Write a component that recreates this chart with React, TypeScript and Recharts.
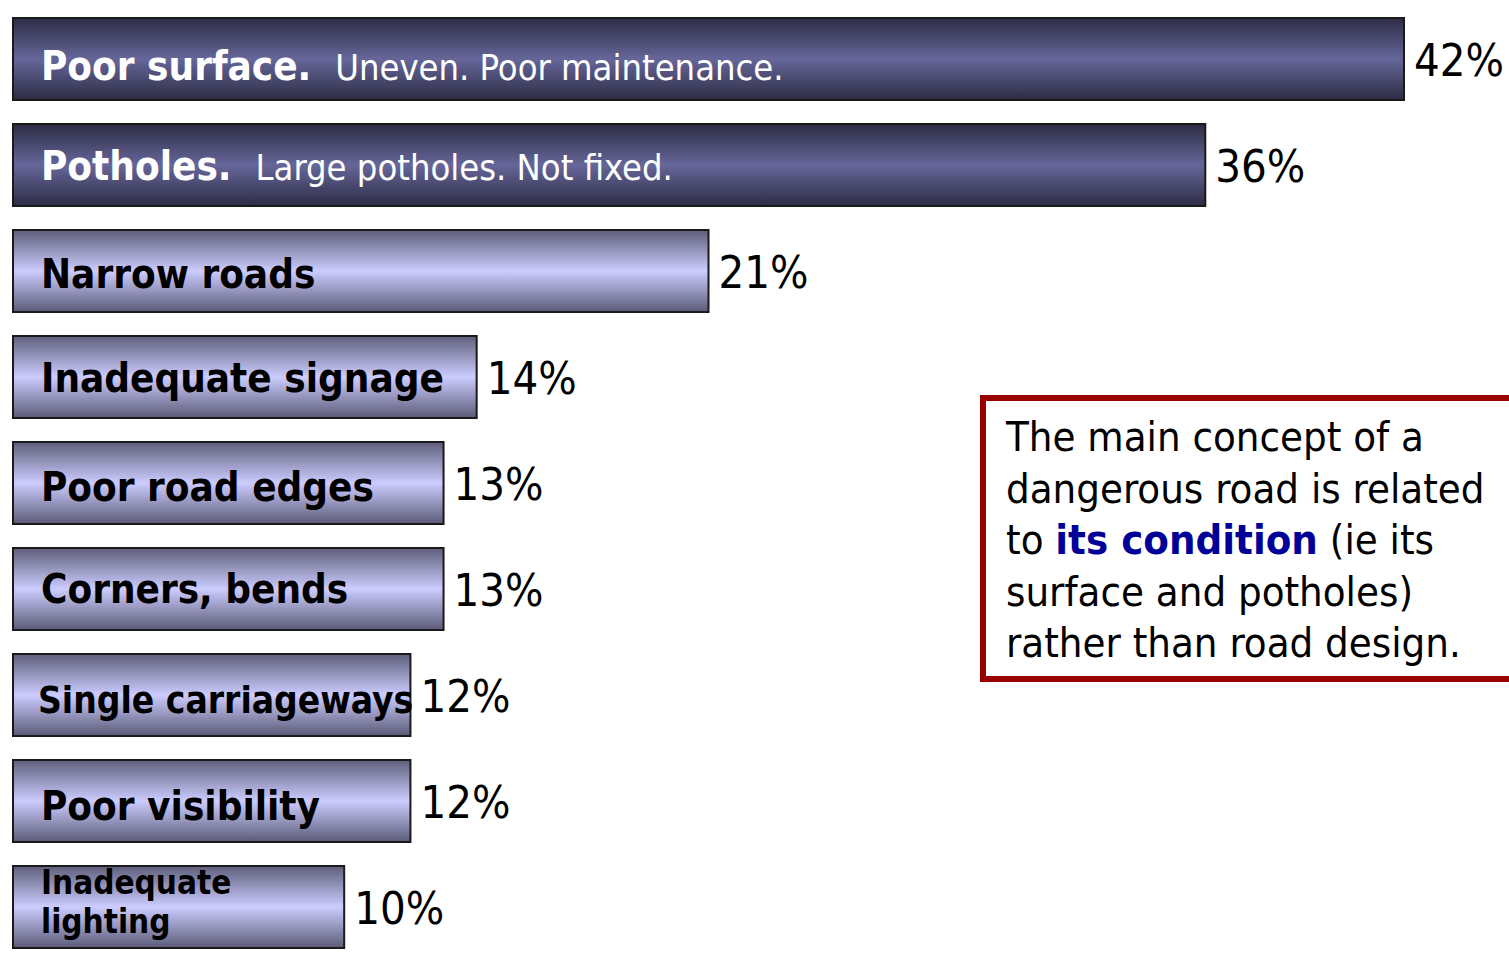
import { Bar, BarChart, Cell, LabelList, XAxis, YAxis } from "recharts";

const causes = [
  "Poor surface.",
  "Potholes.",
  "Narrow roads",
  "Inadequate signage",
  "Poor road edges",
  "Corners, bends",
  "Single carriageways",
  "Poor visibility",
  "Inadequate lighting",
];
const notes = ["Uneven. Poor maintenance.", "Large potholes. Not fixed.", "", "", "", "", "", "", ""];
const shares = [42, 36, 21, 14, 13, 13, 12, 12, 10];
const highlighted = [true, true, false, false, false, false, false, false, false];

const data = causes.map((name, i) => ({ name, note: notes[i], value: shares[i], dark: highlighted[i] }));

const FONT = '"DejaVu Sans Condensed", "DejaVu Sans", sans-serif';
// baseline nudge of each inside label, as placed in the original slide
const labelDrop = [21, 15, 17, 15, 18, 14, 18, 19, 0];

function InsideLabel(props: any) {
  const { x, y, height, index } = props;
  const row = data[index];
  const cy = y + height / 2;
  const fill = row.dark ? "#ffffff" : "#000000";
  if (row.name === "Inadequate lighting") {
    return (
      <text x={x + 28} y={cy} fontFamily={FONT} fontWeight="bold" fontSize={33} fill={fill}>
        <tspan x={x + 28} y={cy - 13}>Inadequate</tspan>
        <tspan x={x + 28} y={cy + 26}>lighting</tspan>
      </text>
    );
  }
  const small = row.name === "Single carriageways";
  return (
    <text x={x + (small ? 25 : 28)} y={cy + labelDrop[index]} fontFamily={FONT} fontSize={small ? 36.8 : 40} fill={fill}>
      <tspan fontWeight="bold">{row.name}</tspan>
      {row.note ? (
        <tspan dx={24} fontSize={36}>
          {row.note}
        </tspan>
      ) : null}
    </text>
  );
}

function ValueLabel(props: any) {
  const { x, y, width, height, value } = props;
  return (
    <text x={x + width + 10} y={y + height / 2 + 17} fontFamily={FONT} fontSize={45} fill="#000000">
      {value}%
    </text>
  );
}

export default function App() {
  return (
    <div style={{ position: "absolute", left: 0, top: 0, width: 1509, height: 954, overflow: "hidden", background: "#fff" }}>
      <BarChart
        width={1509}
        height={960}
        data={data}
        layout="vertical"
        margin={{ top: 6, right: 105, left: 13, bottom: 0 }}
        barSize={82}
      >
        <defs>
          <linearGradient id="darkBar" x1="0" y1="0" x2="0" y2="1">
            <stop offset="0%" stopColor="#2c2c44" />
            <stop offset="50%" stopColor="#66669a" />
            <stop offset="100%" stopColor="#2c2c44" />
          </linearGradient>
          <linearGradient id="lightBar" x1="0" y1="0" x2="0" y2="1">
            <stop offset="0%" stopColor="#5e5e7a" />
            <stop offset="50%" stopColor="#ccccff" />
            <stop offset="100%" stopColor="#5a5a76" />
          </linearGradient>
        </defs>
        <XAxis type="number" domain={[0, 42]} hide />
        <YAxis
          type="category"
          dataKey="name"
          width={0}
          tick={false}
          tickLine={false}
          axisLine={{ stroke: "#000", strokeWidth: 2 }}
        />
        <Bar dataKey="value" stroke="#1a1a1a" strokeWidth={2} isAnimationActive={false}>
          {data.map((d, i) => (
            <Cell key={i} fill={d.dark ? "url(#darkBar)" : "url(#lightBar)"} />
          ))}
          <LabelList dataKey="name" content={InsideLabel} />
          <LabelList dataKey="value" content={ValueLabel} />
        </Bar>
      </BarChart>
      <div
        style={{
          position: "absolute",
          left: 980,
          top: 395,
          width: 560,
          height: 265,
          border: "6px solid #990000",
          background: "#fff",
          fontFamily: FONT,
          fontSize: 41.5,
          lineHeight: "51.5px",
          color: "#000",
          padding: "10px 0 0 20px",
          boxSizing: "content-box",
        }}
      >
        The main concept of a<br />
        dangerous road is related<br />
        to <b style={{ color: "#000099" }}>its condition</b> (ie its<br />
        surface and potholes)<br />
        rather than road design.
      </div>
    </div>
  );
}
